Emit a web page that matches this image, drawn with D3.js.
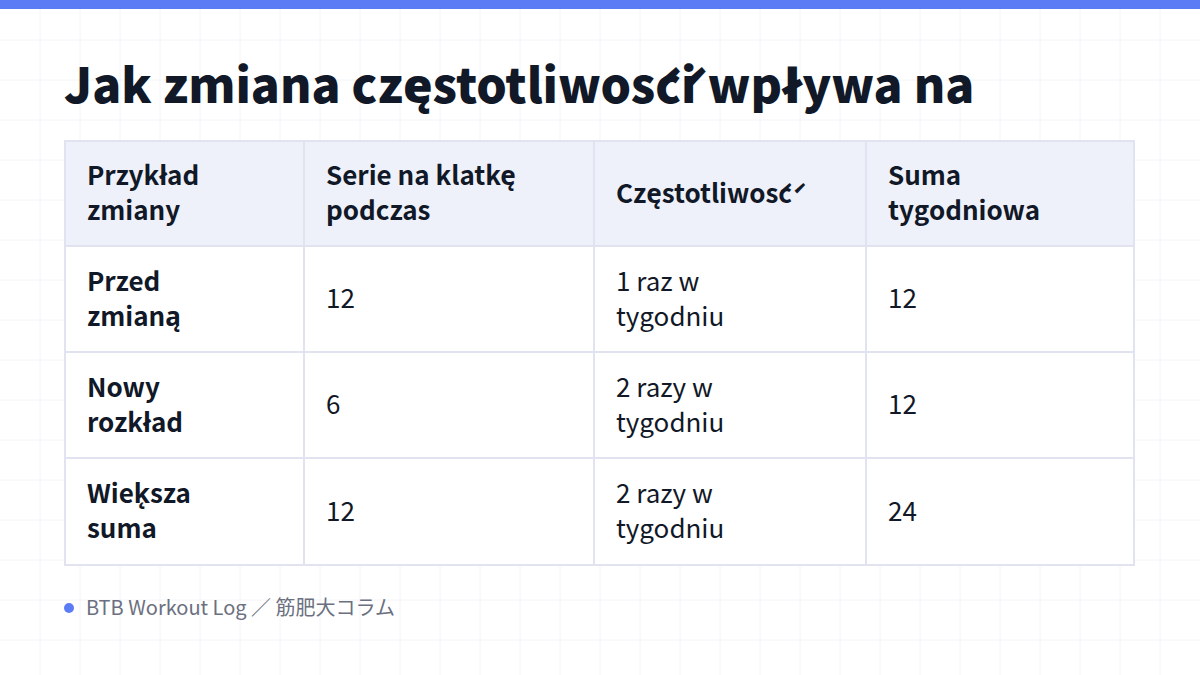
<!DOCTYPE html>
<html><head><meta charset="utf-8">
<script src="https://cdn.jsdelivr.net/npm/d3@7"></script>
<style>body{margin:0;background:#fff}svg{display:block}text{font-family:"Noto Sans CJK JP","Noto Sans",sans-serif}</style>
</head><body><svg id="c" width="1200" height="675"></svg>
<script>
// table content
const title = 'Jak zmiana częstotliwośći wpływa na';
const headers = [['Przykład', 'zmiany'], ['Serie na klatke\u0328', 'podczas'], ['Częstotliwośc\u0301'], ['Suma', 'tygodniowa']];
const rowLabels = [['Przed', 'zmiana\u0328'], ['Nowy', 'rozkład'], ['Wiek\u0328sza', 'suma']];
const setsPerSession = ['12', '6', '12'];
const frequency = [['1 raz w', 'tygodniu'], ['2 razy w', 'tygodniu'], ['2 razy w', 'tygodniu']];
const weeklyTotal = ['12', '12', '24'];
const footer = 'BTB Workout Log ／ 筋肥大コラム';

const svg = d3.select('#c');

// faint background grid
const grid = svg.append('g').attr('stroke', '#f3f4f8').attr('stroke-width', 1);
for (let x = 40; x < 1200; x += 40) grid.append('line').attr('x1', x).attr('x2', x).attr('y1', 0).attr('y2', 675);
for (let y = 40; y < 675; y += 40) grid.append('line').attr('y1', y).attr('y2', y).attr('x1', 0).attr('x2', 1200);

svg.append('rect').attr('width', 1200).attr('height', 9).attr('fill', '#5b7cf5');

svg.append('text').attr('x', 64).attr('y', 103)
  .attr('font-size', 48).attr('font-weight', 900).attr('fill', '#111827')
  .text(title);

const colEdges = [65, 304, 594, 866, 1134];
const rowEdges = [141, 246, 352, 458, 565];

const rows = [headers].concat(rowLabels.map((r, i) => [r, [setsPerSession[i]], frequency[i], [weeklyTotal[i]]]));

const t = svg.append('g');
rows.forEach((row, ri) => {
  row.forEach((cell, ci) => {
    const x0 = colEdges[ci], x1 = colEdges[ci + 1], y0 = rowEdges[ri], y1 = rowEdges[ri + 1];
    t.append('rect').attr('x', x0).attr('y', y0).attr('width', x1 - x0).attr('height', y1 - y0)
      .attr('fill', ri === 0 ? '#eff1fa' : '#fff').attr('stroke', '#e1e4f0').attr('stroke-width', 2);
    const bold = ri === 0 || ci === 0;
    const lh = 35, cy = (y0 + y1) / 2;
    const txt = t.append('text').attr('x', x0 + 22).attr('font-size', 26)
      .attr('font-weight', bold ? 700 : 400).attr('fill', '#111827');
    cell.forEach((line, li) => {
      txt.append('tspan').attr('x', x0 + 22)
        .attr('y', cy + (li - (cell.length - 1) / 2) * lh + 9).text(line);
    });
  });
});

svg.append('circle').attr('cx', 69).attr('cy', 608).attr('r', 5).attr('fill', '#5b7cf5');
svg.append('text').attr('x', 86).attr('y', 615).attr('font-size', 20).attr('fill', '#6b7080').text(footer);
</script></body></html>
